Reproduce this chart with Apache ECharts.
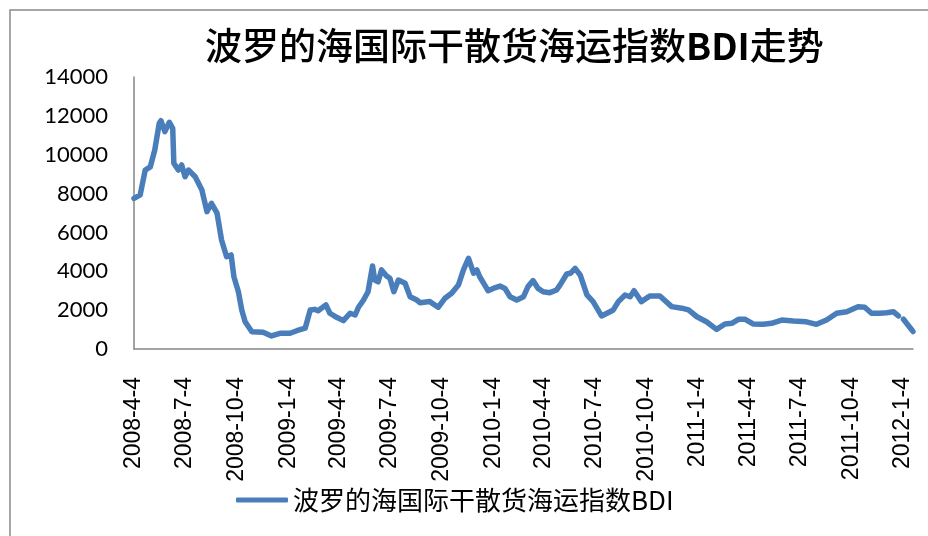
<!DOCTYPE html>
<html>
<head>
<meta charset="utf-8">
<script src="https://cdn.jsdelivr.net/npm/echarts@6/dist/echarts.min.js"></script>
<style>
  html, body { margin: 0; padding: 0; background: #fff; }
  #chart { width: 928px; height: 536px; }
</style>
</head>
<body>
<div id="chart"></div>
<script>
// axis range (daily categories) and the labelled dates
var firstDay = '2008-4-4';
var lastDay = '2012-1-22';
var tickLabels = ['2008-4-4', '2008-7-4', '2008-10-4', '2009-1-4', '2009-4-4', '2009-7-4',
  '2009-10-4', '2010-1-4', '2010-4-4', '2010-7-4', '2010-10-4', '2011-1-4', '2011-4-4',
  '2011-7-4', '2011-10-4', '2012-1-4'];

var seriesName = '波罗的海国际干散货海运指数BDI';

// points
var bdiDates = [
  '2008-4-4', '2008-4-15', '2008-4-24', '2008-5-3', '2008-5-11', '2008-5-19', '2008-5-22', '2008-5-29',
  '2008-6-6', '2008-6-12', '2008-6-14', '2008-6-22', '2008-6-28', '2008-7-4', '2008-7-10', '2008-7-22',
  '2008-8-3', '2008-8-12', '2008-8-20', '2008-8-30', '2008-9-7', '2008-9-16', '2008-9-24', '2008-9-29',
  '2008-10-7', '2008-10-13', '2008-10-19', '2008-10-31', '2008-11-20', '2008-12-5', '2008-12-20',
  '2009-1-7', '2009-1-19', '2009-2-3', '2009-2-12', '2009-2-20', '2009-2-26', '2009-3-12', '2009-3-19',
  '2009-3-31', '2009-4-12', '2009-4-24', '2009-5-3', '2009-5-9', '2009-5-18', '2009-5-26', '2009-6-3',
  '2009-6-7', '2009-6-13', '2009-6-19', '2009-6-28', '2009-7-4', '2009-7-11', '2009-7-19', '2009-7-31',
  '2009-8-9', '2009-8-21', '2009-8-27', '2009-9-13', '2009-9-28', '2009-10-10', '2009-10-22', '2009-11-3',
  '2009-11-12', '2009-11-21', '2009-11-30', '2009-12-6', '2009-12-11', '2009-12-20', '2009-12-26',
  '2010-1-4', '2010-1-16', '2010-1-25', '2010-2-3', '2010-2-15', '2010-2-27', '2010-3-7', '2010-3-16',
  '2010-3-25', '2010-4-3', '2010-4-15', '2010-4-27', '2010-5-3', '2010-5-15', '2010-5-22', '2010-5-30',
  '2010-6-8', '2010-6-20', '2010-7-1', '2010-7-16', '2010-7-31', '2010-8-6', '2010-8-15', '2010-8-18',
  '2010-8-27', '2010-9-5', '2010-9-12', '2010-9-25', '2010-10-10', '2010-10-28', '2010-11-18', '2010-12-6',
  '2010-12-18', '2011-1-2', '2011-1-19', '2011-2-6', '2011-2-21', '2011-3-5', '2011-3-17', '2011-3-29',
  '2011-4-12', '2011-4-30', '2011-5-15', '2011-6-2', '2011-6-23', '2011-7-16', '2011-8-3', '2011-8-21',
  '2011-9-8', '2011-9-26', '2011-10-16', '2011-10-28', '2011-11-9', '2011-11-24', '2011-12-6', '2011-12-18',
  '2011-12-27', '2011-12-30', '2012-1-5', '2012-1-20', '2012-1-22'
];
var bdiValues = [
  7750, 7930, 9210, 9370, 10240, 11620, 11750, 11190,
  11670, 11360, 9560, 9210, 9470, 8870, 9210, 8870,
  8180, 7070, 7500, 6990, 5610, 4750, 4840, 3720,
  2950, 2010, 1400, 890, 860, 670, 810,
  810, 940, 1070, 2010, 2040, 1970, 2270, 1840,
  1630, 1460, 1840, 1750, 2150, 2520, 2950, 4270,
  3550, 3460, 4070, 3760, 3640, 2950, 3550, 3380,
  2690, 2520, 2380, 2440, 2150, 2610, 2870, 3290,
  4070, 4670, 3900, 4070, 3720, 3290, 3000,
  3120, 3240, 3120, 2690, 2520, 2690, 3210, 3520,
  3120, 2950, 2900, 3040, 3290, 3860, 3900, 4150,
  3810, 2780, 2440, 1700, 1920, 2010, 2440, 2520,
  2780, 2690, 3000, 2440, 2730, 2730, 2180, 2100,
  2010, 1660, 1400, 1010, 1290, 1320, 1530, 1530,
  1290, 1270, 1320, 1490, 1440, 1400, 1270, 1490,
  1840, 1920, 2180, 2150, 1840, 1840, 1870, 1920,
  1700, null, 1530, 980, 900
];

function fmt(d) {
  return d.getUTCFullYear() + '-' + (d.getUTCMonth() + 1) + '-' + d.getUTCDate();
}
function parse(s) {
  var p = s.split('-');
  return new Date(Date.UTC(+p[0], +p[1] - 1, +p[2]));
}

var days = [];
for (var t = parse(firstDay); t <= parse(lastDay); t = new Date(t.getTime() + 86400000)) {
  days.push(fmt(t));
}

var titleFont = 'Noto Sans CJK SC';

var chart = echarts.init(document.getElementById('chart'));
chart.setOption({
  animation: false,
  backgroundColor: '#fff',
  title: {
    text: '{c|波罗的海国际干散货海运指数}{b|BDI}{c|走势}',
    left: 200,
    top: 22,
    textStyle: {
      fontFamily: titleFont,
      fontSize: 37,
      color: '#000',
      rich: {
        c: { fontFamily: titleFont, fontSize: 37, fontWeight: 500, color: '#000' },
        b: { fontFamily: titleFont, fontSize: 37, fontWeight: 'bold', color: '#000' }
      }
    }
  },
  legend: {
    data: [seriesName],
    left: 231,
    top: 482,
    icon: 'roundRect',
    itemWidth: 52,
    itemHeight: 5,
    itemGap: 5,
    textStyle: {
      fontFamily: 'Noto Sans CJK SC',
      fontSize: 26,
      color: '#000'
    }
  },
  graphic: [{
    type: 'rect',
    shape: { x: 10, y: 10, width: 940, height: 560 },
    style: { fill: 'none', stroke: '#898989', lineWidth: 1.5 },
    silent: true
  }],
  grid: {
    left: 134,
    right: 15,
    top: 77,
    bottom: 187
  },
  xAxis: {
    type: 'category',
    data: days,
    boundaryGap: false,
    axisLine: { lineStyle: { color: '#868686', width: 1.5 } },
    axisTick: { show: false },
    splitLine: { show: false },
    axisLabel: {
      rotate: 90,
      margin: 28,
      interval: function (index, value) {
        return tickLabels.indexOf(value) >= 0;
      },
      fontFamily: 'Liberation Sans',
      fontSize: 23,
      color: '#000'
    }
  },
  yAxis: {
    type: 'value',
    min: 0,
    max: 14000,
    interval: 2000,
    axisLine: { show: true, lineStyle: { color: '#868686', width: 1.5 } },
    axisTick: { show: false },
    splitLine: { show: false },
    axisLabel: {
      margin: 26,
      formatter: function (v) { return String(v); },
      fontFamily: 'Lato',
      fontSize: 22,
      color: '#000'
    }
  },
  series: [{
    name: seriesName,
    type: 'line',
    symbol: 'none',
    connectNulls: false,
    data: bdiDates.map(function (d, i) {
      return [d, bdiValues[i] == null ? '-' : bdiValues[i]];
    }),
    lineStyle: { color: '#4a7ebb', width: 5.5, cap: 'round', join: 'round' },
    itemStyle: { color: '#4a7ebb' }
  }]
});
</script>
</body>
</html>
